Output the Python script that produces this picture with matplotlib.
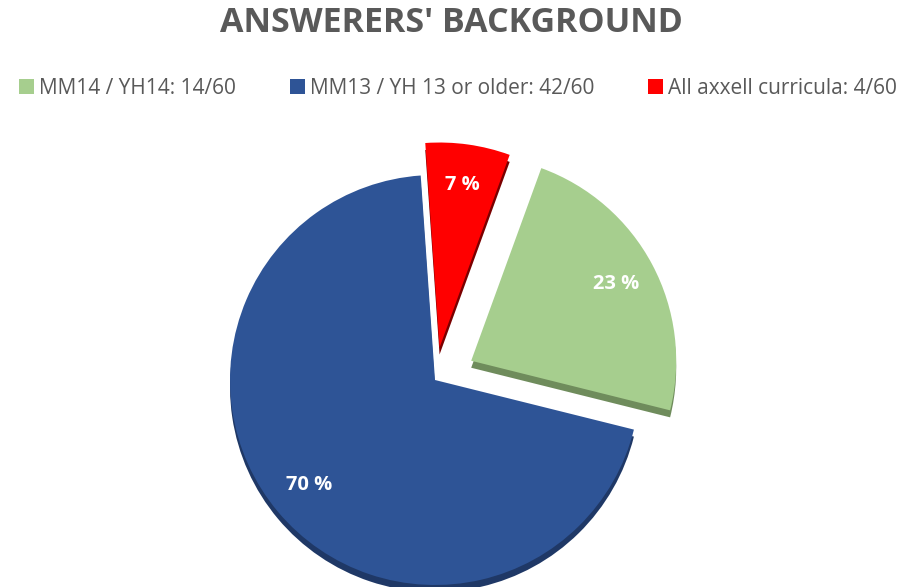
import matplotlib.pyplot as plt
import matplotlib

matplotlib.rcParams['font.family'] = ['Open Sans', 'DejaVu Sans']

labels = ['MM14 / YH14: 14/60', 'MM13 / YH 13 or older: 42/60', 'All axxell curricula: 4/60']
counts = [14, 42, 4]
colors = ['#a6ce8e', '#2e5496', '#ff0000']
dark = ['#6f8c5c', '#1f3866', '#7a0000']
explode = [0.2, 0, 0.16]

fig = plt.figure(figsize=(9.02, 5.87), dpi=100)
ax = fig.add_axes([0, 0, 1, 1])

cx, cy, r = 435, 207, 205
depth = 7
# pie takes explode in data units when radius != 1
expl = [e * r for e in explode]

# darker copy underneath gives the 3D rim
ax.pie(counts, colors=dark, explode=expl, startangle=70, counterclock=False,
       radius=r, center=(cx, cy - depth), frame=True)
wedges, texts, autotexts = ax.pie(
    counts, colors=colors, explode=expl, startangle=70, counterclock=False,
    radius=r, center=(cx, cy), frame=True,
    autopct=lambda p: f'{p:.0f} %', pctdistance=0.8,
    textprops=dict(color='white', fontsize=14.5, fontweight='bold'))
ax.set_xlim(0, 902)
ax.set_ylim(0, 587)
ax.set_aspect('equal')
ax.axis('off')

fig.text(0.5, 1 - 23 / 587, "ANSWERERS' BACKGROUND", ha='center', va='center',
         fontsize=24.5, fontweight='bold', color='#595959')

fig.legend(wedges, labels, loc='center', bbox_to_anchor=(0.508, 1 - 88 / 587), ncol=3,
           frameon=False, handlelength=0.7, handleheight=0.7, handletextpad=0.25,
           columnspacing=2.6, labelcolor='#595959', prop=dict(size=15))

fig.savefig('out.png', dpi=100)
